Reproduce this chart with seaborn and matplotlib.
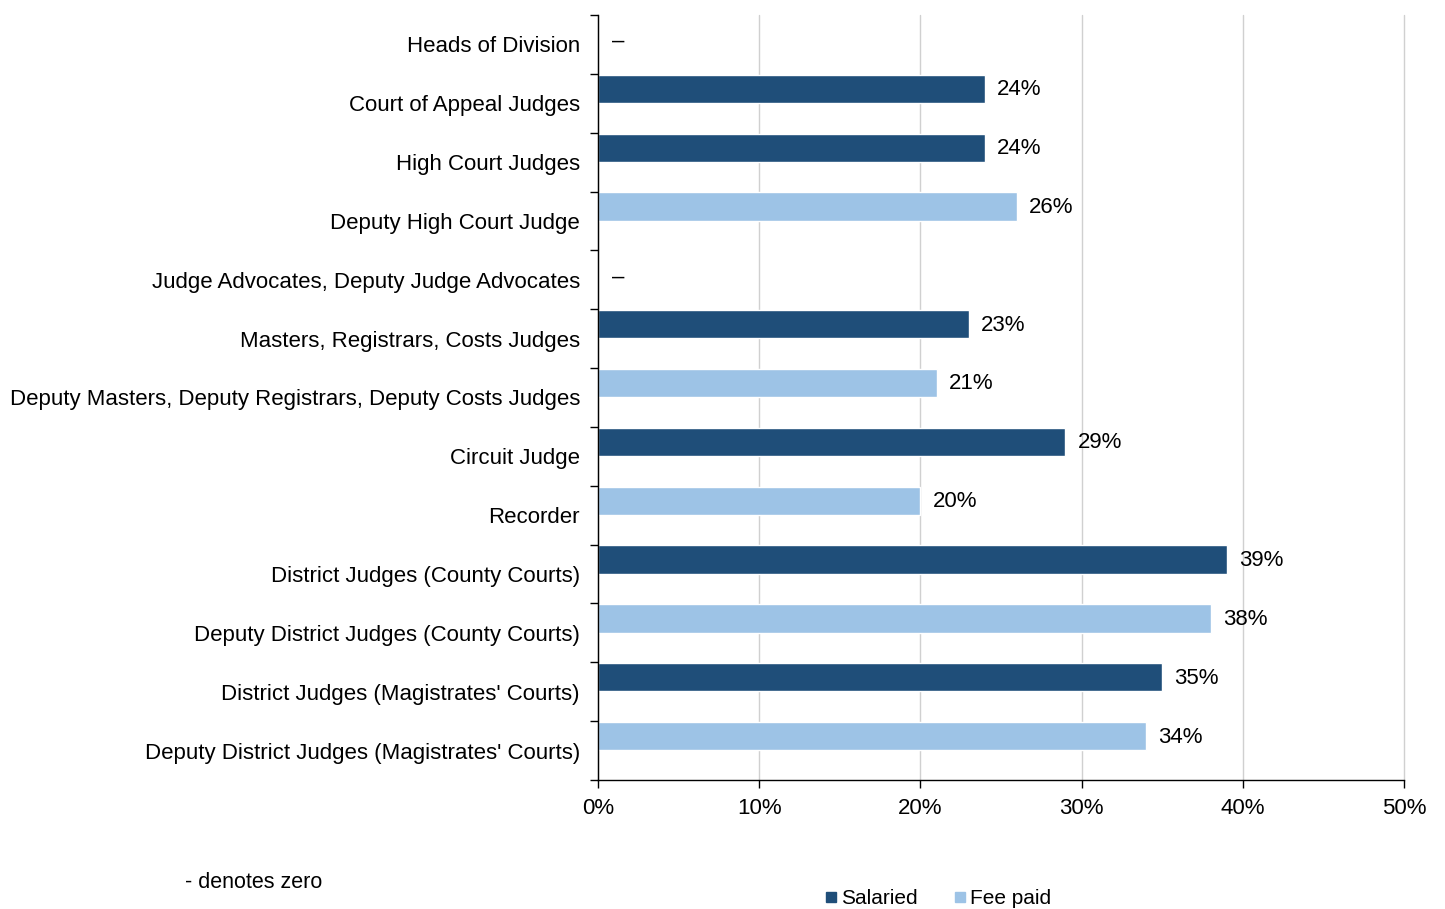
import pandas as pd
import matplotlib.pyplot as plt
import seaborn as sns
from matplotlib.lines import Line2D

# chart data
roles = ['Heads of Division', 'Court of Appeal Judges', 'High Court Judges',
         'Deputy High Court Judge', 'Judge Advocates, Deputy Judge Advocates',
         'Masters, Registrars, Costs Judges',
         'Deputy Masters, Deputy Registrars, Deputy Costs Judges',
         'Circuit Judge', 'Recorder', 'District Judges (County Courts)',
         'Deputy District Judges (County Courts)',
         "District Judges (Magistrates' Courts)",
         "Deputy District Judges (Magistrates' Courts)"]
pct = [0, 24, 24, 26, 0, 23, 21, 29, 20, 39, 38, 35, 34]
kind = ['Salaried', 'Salaried', 'Salaried', 'Fee paid', 'Salaried', 'Salaried',
        'Fee paid', 'Salaried', 'Fee paid', 'Salaried', 'Fee paid',
        'Salaried', 'Fee paid']
xticks = [0, 10, 20, 30, 40, 50]

colours = {'Salaried': '#1F4E79', 'Fee paid': '#9DC3E6'}

df = pd.DataFrame({'role': roles, 'pct': pct, 'kind': kind})

sns.set_style('white')
plt.rcParams['font.family'] = ['Liberation Sans', 'DejaVu Sans']
plt.rcParams['text.color'] = 'black'
plt.rcParams['xtick.color'] = 'black'
plt.rcParams['ytick.color'] = 'black'
fs = 16

fig = plt.figure(figsize=(14.45, 9.09), dpi=100)
ax = fig.add_axes([598 / 1445, 1 - 780 / 909, (1404 - 598) / 1445, (780 - 15) / 909])

sns.barplot(data=df, y='role', x='pct', hue='kind', dodge=False,
            palette=colours, width=0.48, saturation=1, legend=False,
            ax=ax, orient='h')

# excel puts the bar in the upper half of each slot
for p in ax.patches:
    p.set_y(p.get_y() - 0.245)

# value labels, dash for zero
for i, v in enumerate(pct):
    if v > 0:
        ax.text(v + 0.75, i - 0.23, f'{v}%', va='center', ha='left', fontsize=fs)
    else:
        ax.text(v + 0.85, i - 0.05, '–', va='center', ha='left', fontsize=fs)

ax.set_xlim(0, 50)
ax.set_ylim(12.5, -0.5)
ax.set_xticks(xticks)
ax.set_xticklabels([f'{t}%' for t in xticks], fontsize=fs)
ax.set_yticks(range(len(roles)))
ax.set_yticklabels(roles, fontsize=fs)
ax.set_yticks([i - 0.5 for i in range(len(roles) + 1)], minor=True)
ax.tick_params(axis='y', which='major', length=0, pad=13)
ax.tick_params(axis='y', which='minor', length=6, width=1, color='black', left=True)
ax.tick_params(axis='x', length=6, width=1, color='black', bottom=True, pad=7)
ax.set_xlabel('')
ax.set_ylabel('')
ax.grid(axis='x', color='#d0d0d0', linewidth=1)
for g in ax.get_xgridlines():
    g.set_clip_on(False)
ax.set_axisbelow(True)
for s in ['top', 'right']:
    ax.spines[s].set_visible(False)
for s in ['left', 'bottom']:
    ax.spines[s].set_color('black')
    ax.spines[s].set_linewidth(1)

fig.text(185 / 1445, 1 - 883 / 909, '- denotes zero', va='center', ha='left', fontsize=15.5)

handles = [Line2D([], [], marker='s', linestyle='', markersize=7,
                  color=colours[k]) for k in ['Salaried', 'Fee paid']]
fig.legend(handles, ['Salaried', 'Fee paid'], loc='center',
           bbox_to_anchor=(937 / 1445, 1 - 899 / 909), ncol=2, frameon=False,
           fontsize=15, handletextpad=0.1, columnspacing=1.6, handlelength=0.8)

fig.savefig('out.png', dpi=100)
